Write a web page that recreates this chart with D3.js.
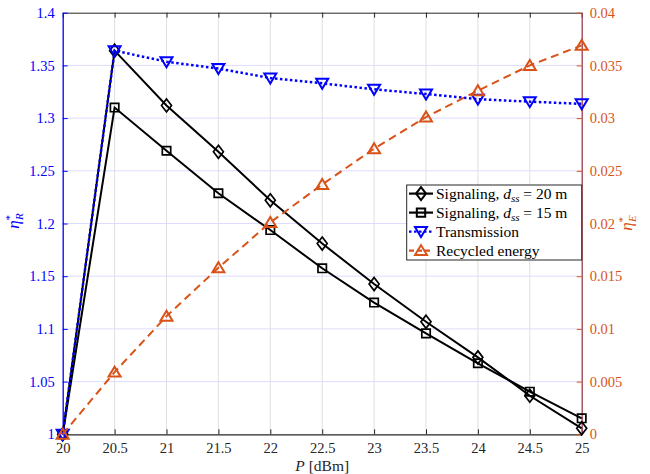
<!DOCTYPE html>
<html><head><meta charset="utf-8">
<script src="https://cdn.jsdelivr.net/npm/d3@7"></script>
<style>body{margin:0;background:#fff}svg{display:block}
svg text{font-family:"Liberation Serif","DejaVu Serif","Noto Serif","Times New Roman",Times,serif !important}</style>
</head><body>
<script>
const powers = [20, 20.5, 21, 21.5, 22, 22.5, 23, 23.5, 24, 24.5, 25];
const signaling20 = [1.0, 1.364, 1.312, 1.268, 1.222, 1.181, 1.1426, 1.1068, 1.073, 1.0366, 1.0057];
const signaling15 = [1.0, 1.310, 1.269, 1.2287, 1.1938, 1.1575, 1.125, 1.0958, 1.0674, 1.0404, 1.0152];
const transmission = [1.0, 1.364, 1.3535, 1.347, 1.338, 1.333, 1.3273, 1.3229, 1.318, 1.3156, 1.3135];
const recycled = [0, 0.0059, 0.0112, 0.0158, 0.0201, 0.0237, 0.0271, 0.0301, 0.0326, 0.0350, 0.0369];
const xTicks = [20, 20.5, 21, 21.5, 22, 22.5, 23, 23.5, 24, 24.5, 25];
const yLeftTicks = [1, 1.05, 1.1, 1.15, 1.2, 1.25, 1.3, 1.35, 1.4];
const yRightTicks = [0, 0.005, 0.01, 0.015, 0.02, 0.025, 0.03, 0.035, 0.04];

const W = 650, H = 474;
const L = 62.7, T = 12.7, R = 581.7, B = 434.3;
const BLUE = "#0000ff", ORANGE = "#d95319", RAXIS = "#9c3c4c";

const svg = d3.select("body").append("svg").attr("width", W).attr("height", H);

const x = d3.scaleLinear().domain([20, 25]).range([L, R]);
const yL = d3.scaleLinear().domain([1, 1.4]).range([B, T]);
const yR = d3.scaleLinear().domain([0, 0.04]).range([B, T]);

// grid
svg.append("g").selectAll("line").data(xTicks.slice(1, -1)).join("line")
  .attr("x1", d => x(d)).attr("x2", d => x(d)).attr("y1", T).attr("y2", B)
  .attr("stroke", "#dfdfdf").attr("stroke-width", 1);
svg.append("g").selectAll("line").data(yLeftTicks.slice(1, -1)).join("line")
  .attr("x1", L).attr("x2", R).attr("y1", d => yL(d)).attr("y2", d => yL(d))
  .attr("stroke", "#dcdcff").attr("stroke-width", 1);

// axes
const fs = "14.5px";
const gx = svg.append("g").attr("transform", `translate(0,${B})`)
  .call(d3.axisBottom(x).tickValues(xTicks).tickFormat(d3.format("")).tickSizeInner(-5).tickSizeOuter(0).tickPadding(8));
gx.selectAll("text").attr("fill", "#262626").style("font-size", fs);
gx.selectAll("line, path").attr("stroke", "#262626");
gx.select("path").attr("stroke-width", 1.3);

const gxt = svg.append("g").attr("transform", `translate(0,${T})`)
  .call(d3.axisTop(x).tickValues(xTicks).tickFormat("").tickSizeInner(-5).tickSizeOuter(0));
gxt.selectAll("line, path").attr("stroke", "#262626");

const gl = svg.append("g").attr("transform", `translate(${L},0)`)
  .call(d3.axisLeft(yL).tickValues(yLeftTicks).tickFormat(d3.format("")).tickSizeInner(-5).tickSizeOuter(0).tickPadding(8));
gl.selectAll("text").attr("fill", BLUE).style("font-size", fs);
gl.selectAll("line, path").attr("stroke", BLUE);
gl.select("path").attr("stroke-width", 1.3);

const gr = svg.append("g").attr("transform", `translate(${R},0)`)
  .call(d3.axisRight(yR).tickValues(yRightTicks).tickFormat(d3.format("")).tickSizeInner(-5).tickSizeOuter(0).tickPadding(8));
gr.selectAll("text").attr("fill", ORANGE).style("font-size", fs);
gr.selectAll("line").attr("stroke", ORANGE);
gr.select("path").attr("stroke", RAXIS).attr("stroke-width", 1.3);

// axis labels
svg.append("text").attr("x", (L + R) / 2).attr("y", 471).attr("text-anchor", "middle")
  .attr("fill", "#262626").style("font-size", "15.5px")
  .call(t => { t.append("tspan").attr("font-style", "italic").text("P"); t.append("tspan").text(" [dBm]"); });

function etaLabel(px, py, sub, color) {
  const t = svg.append("text").attr("transform", `translate(${px},${py}) rotate(-90)`)
    .attr("text-anchor", "middle").attr("fill", color).style("font-size", "17px");
  t.append("tspan").attr("font-style", "italic").text("η");
  t.append("tspan").attr("dy", -6).style("font-size", "11px").text("*");
  t.append("tspan").attr("dx", -5).attr("dy", 10).attr("font-style", "italic").style("font-size", "11px").text(sub);
}
etaLabel(19, 221, "R", BLUE);
etaLabel(632, 223, "E", ORANGE);

// marker symbols
const diamond = (cx, cy) => `M${cx},${cy - 6.5}L${cx + 5},${cy}L${cx},${cy + 6.5}L${cx - 5},${cy}Z`;
const square = (cx, cy) => `M${cx - 4.2},${cy - 4.2}h8.4v8.4h-8.4Z`;
const triDown = (cx, cy) => `M${cx - 6},${cy - 4.5}L${cx + 6},${cy - 4.5}L${cx},${cy + 5.5}Z`;
const triUp = (cx, cy) => `M${cx - 6},${cy + 4.5}L${cx + 6},${cy + 4.5}L${cx},${cy - 5.5}Z`;

function series(vals, yScale, color, dash, width, marker, sw) {
  const data = powers.map((p, i) => [p, vals[i]]);
  const g = svg.append("g");
  g.append("path").datum(data)
    .attr("d", d3.line().x(d => x(d[0])).y(d => yScale(d[1])))
    .attr("fill", "none").attr("stroke", color).attr("stroke-width", width)
    .attr("stroke-dasharray", dash);
  g.selectAll("path.m").data(data).join("path").attr("class", "m")
    .attr("d", d => marker(x(d[0]), yScale(d[1])))
    .attr("fill", "none").attr("stroke", color).attr("stroke-width", sw);
}
series(signaling20, yL, "#000", null, 2, diamond, 1.7);
series(signaling15, yL, "#000", null, 2, square, 1.7);
series(transmission, yL, BLUE, "2.5,2.5", 2.5, triDown, 2);
series(recycled, yR, ORANGE, "8,5", 2, triUp, 2);

// legend
const legendItems = [
  { kind: "s20", color: "#000", dash: null, marker: diamond },
  { kind: "s15", color: "#000", dash: null, marker: square },
  { kind: "tr", color: BLUE, dash: "2.5,2.5", marker: triDown, label: "Transmission" },
  { kind: "re", color: ORANGE, dash: "5,3", marker: triUp, label: "Recycled energy" }
];
const lg = svg.append("g");
lg.append("rect").attr("x", 406.7).attr("y", 185).attr("width", 175).attr("height", 75)
  .attr("fill", "#fff").attr("stroke", "#262626").attr("stroke-width", 1);
legendItems.forEach((it, i) => {
  const cy = 193.6 + i * 19;
  lg.append("line").attr("x1", 409).attr("x2", 433).attr("y1", cy).attr("y2", cy)
    .attr("stroke", it.color).attr("stroke-width", 2.2).attr("stroke-dasharray", it.dash);
  lg.append("path").attr("d", it.marker(421, cy)).attr("fill", "none")
    .attr("stroke", it.color).attr("stroke-width", 2);
  const t = lg.append("text").attr("x", 436).attr("y", cy + 5).attr("fill", "#000").style("font-size", "15.5px");
  if (it.label) { t.text(it.label); }
  else {
    const dist = it.kind === "s20" ? "20" : "15";
    t.append("tspan").text("Signaling, ");
    t.append("tspan").attr("font-style", "italic").text("d");
    t.append("tspan").attr("font-style", "italic").attr("dy", 3).style("font-size", "11px").text("ss");
    t.append("tspan").attr("dy", -3).text(" = " + dist + " m");
  }
});
</script>
</body></html>
